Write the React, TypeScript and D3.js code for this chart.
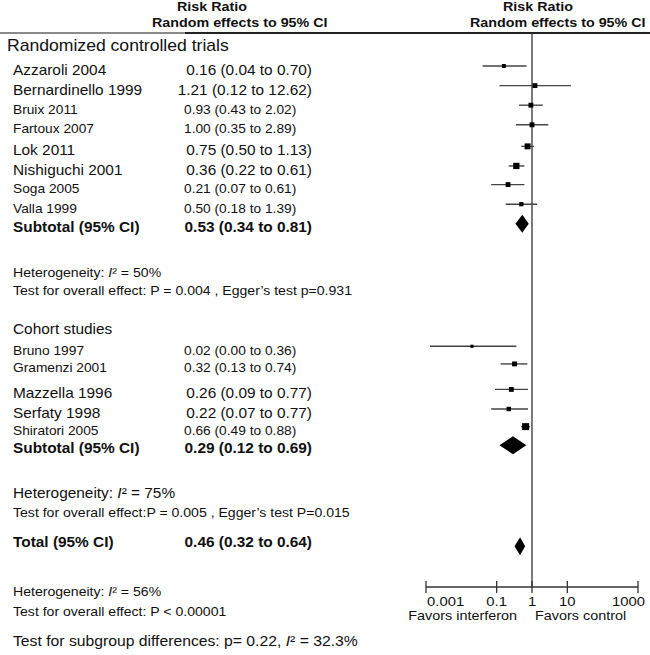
import React from "react";
import * as d3 from "d3";

// ---------- data ----------
const rctStudies = ["Azzaroli 2004", "Bernardinello 1999", "Bruix 2011", "Fartoux 2007", "Lok 2011", "Nishiguchi 2001", "Soga 2005", "Valla 1999"];
const rctRR = [0.16, 1.21, 0.93, 1.0, 0.75, 0.36, 0.21, 0.5];
const rctLo = [0.04, 0.12, 0.43, 0.35, 0.5, 0.22, 0.07, 0.18];
const rctHi = [0.7, 12.62, 2.02, 2.89, 1.13, 0.61, 0.61, 1.39];
const rctWeight = [8, 12, 12, 12, 18, 20, 12, 9];

const cohortStudies = ["Bruno 1997", "Gramenzi 2001", "Mazzella 1996", "Serfaty 1998", "Shiratori 2005"];
const cohortRR = [0.02, 0.32, 0.26, 0.22, 0.66];
const cohortLo = [0.0013, 0.13, 0.09, 0.07, 0.49];
const cohortHi = [0.36, 0.74, 0.77, 0.77, 0.88];
const cohortWeight = [5, 12, 12, 10, 25];

const subtotalRCT = [0.53, 0.34, 0.81];
const subtotalCohort = [0.29, 0.12, 0.69];
const totalAll = [0.46, 0.32, 0.64];

const axisTicks = [0.001, 0.1, 1, 10, 1000];
const axisTickLabels = ["0.001", "0.1", "1", "10", "1000"];

// ---------- layout / style ----------
const W = 650;
const H = 655;
const FONT = "'Liberation Sans', Arial, Helvetica, sans-serif";
const SX = 1.1;
const bigRows = new Set(["Azzaroli 2004", "Bernardinello 1999", "Lok 2011", "Nishiguchi 2001", "Mazzella 1996", "Serfaty 1998"]);

const x = d3.scaleLog().domain([0.001, 1000]).range([426, 638]);
const slotY = d3.scaleLinear().domain([0, 1]).range([70, 89.6]);
const size = d3.scaleSqrt().domain([0, 25]).range([0, 7]);
const fmt = d3.format(".2f");

const rctSlots = [0, 1, 2, 3, 4.1, 5.1, 6.05, 7.05];
const cohortSlots = [14.3, 15.2, 16.5, 17.5, 18.4];

const AXIS_Y = 587;
const HEADER_LINE_Y = 33;

type TProps = { x: number; y: number; size: number; weight?: string; anchor?: string; sx?: number; children?: React.ReactNode };
function T({ x, y, size, weight, anchor, sx, children }: TProps) {
  const base = y + 0.36 * size;
  return (
    <text
      transform={`translate(${x},${base}) scale(${sx || SX},1)`}
      fontSize={size}
      fontWeight={weight || "normal"}
      textAnchor={anchor || "start"}
      fill="#111"
      fontFamily={FONT}
    >
      {children}
    </text>
  );
}

const ciText = (rr: number, lo: number, hi: number) => `${fmt(rr)} (${fmt(lo)} to ${fmt(hi)})`;

function StudyRow({ name, rr, lo, hi, w, slot }: { name: string; rr: number; lo: number; hi: number; w: number; slot: number }) {
  const cy = slotY(slot);
  const big = bigRows.has(name);
  const fs = big ? 14 : 12.5;
  const my = cy - 4;
  const s = size(w);
  return (
    <g>
      <T x={13} y={cy} size={fs}>{name}</T>
      {big ? (
        <T x={312} y={cy} size={fs} anchor="end">{ciText(rr, lo, hi)}</T>
      ) : (
        <T x={184} y={cy} size={fs}>{ciText(rr, lo, hi)}</T>
      )}
      <line x1={x(lo)} x2={x(hi)} y1={my} y2={my} stroke="#444" strokeWidth={1.4} />
      <rect x={x(rr) - s / 2} y={my - s / 2} width={s} height={s} fill="#000" />
    </g>
  );
}

function Diamond({ vals, cy, h }: { vals: number[]; cy: number; h: number }) {
  const [rr, lo, hi] = vals;
  const p = `M${x(lo)},${cy} L${x(rr)},${cy - h} L${x(hi)},${cy} L${x(rr)},${cy + h} Z`;
  return <path d={p} fill="#000" />;
}

function Summary({ label, vals, slot, dy }: { label: string; vals: number[]; slot: number; dy: number }) {
  const cy = slotY(slot);
  return (
    <g>
      <T x={13} y={cy} size={14} weight="bold">{label}</T>
      <T x={312} y={cy} size={14} weight="bold" anchor="end">{ciText(vals[0], vals[1], vals[2])}</T>
      <Diamond vals={vals} cy={cy + dy} h={9} />
    </g>
  );
}

function Het({ slot, size: fs, value }: { slot: number; size: number; value: string }) {
  return (
    <T x={13} y={slotY(slot)} size={fs}>
      Heterogeneity: <tspan fontStyle="italic">I</tspan>² = {value}
    </T>
  );
}

export default function App() {
  const x1 = x(1);
  return (
    <svg width={W} height={H} style={{ position: "absolute", left: 0, top: 0, background: "#fff" }} fontFamily={FONT}>
      <rect x={0} y={0} width={W} height={H} fill="#fff" />
      {/* headers */}
      <T x={177} y={6} size={13} weight="bold">Risk Ratio</T>
      <T x={152} y={22} size={13} weight="bold">Random effects to 95% CI</T>
      <T x={503} y={6} size={13} weight="bold">Risk Ratio</T>
      <T x={470} y={22} size={13} weight="bold">Random effects to 95% CI</T>
      <line x1={0} x2={185} y1={HEADER_LINE_Y} y2={HEADER_LINE_Y} stroke="#8a8a8a" strokeWidth={2} />
      <line x1={185} x2={W} y1={HEADER_LINE_Y} y2={HEADER_LINE_Y} stroke="#222" strokeWidth={2} />

      {/* line of no effect */}
      <line x1={x1} x2={x1} y1={HEADER_LINE_Y} y2={AXIS_Y} stroke="#333" strokeWidth={1.3} />

      {/* RCT section */}
      <T x={7} y={slotY(-1.28)} size={16}>Randomized controlled trials</T>
      {rctStudies.map((n, i) => (
        <StudyRow key={n} name={n} rr={rctRR[i]} lo={rctLo[i]} hi={rctHi[i]} w={rctWeight[i]} slot={rctSlots[i]} />
      ))}
      <Summary label="Subtotal (95% CI)" vals={subtotalRCT} slot={8.0} dy={-3} />
      <Het slot={10.35} size={12.8} value="50%" />
      <T x={13} y={slotY(11.25)} size={12.8}>Test for overall effect: P = 0.004 , Egger’s test p=0.931</T>

      {/* Cohort section */}
      <T x={13} y={slotY(13.2)} size={14}>Cohort studies</T>
      {cohortStudies.map((n, i) => (
        <StudyRow key={n} name={n} rr={cohortRR[i]} lo={cohortLo[i]} hi={cohortHi[i]} w={cohortWeight[i]} slot={cohortSlots[i]} />
      ))}
      <Summary label="Subtotal (95% CI)" vals={subtotalCohort} slot={19.3} dy={-3} />
      <Het slot={21.6} size={14} value="75%" />
      <T x={13} y={slotY(22.55)} size={12.8}>Test for overall effect:P = 0.005 , Egger’s test P=0.015</T>

      {/* Total */}
      <Summary label="Total (95% CI)" vals={totalAll} slot={24.1} dy={4} />
      <Het slot={26.6} size={12.8} value="56%" />
      <T x={13} y={slotY(27.6)} size={12.8}>Test for overall effect: P &lt; 0.00001</T>
      <T x={13} y={slotY(29.1)} size={14.3}>
        Test for subgroup differences: p= 0.22, <tspan fontStyle="italic">I</tspan>² = 32.3%
      </T>

      {/* axis */}
      <line x1={x(axisTicks[0])} x2={x(axisTicks[axisTicks.length - 1])} y1={AXIS_Y} y2={AXIS_Y} stroke="#333" strokeWidth={1.3} />
      {axisTicks.map((t) => (
        <line key={t} x1={x(t)} x2={x(t)} y1={AXIS_Y - 6} y2={AXIS_Y + 6} stroke="#333" strokeWidth={1.3} />
      ))}
      {axisTicks.map((t, i) => {
        const last = i === axisTicks.length - 1;
        const first = i === 0;
        return (
          <T key={"l" + t} x={first ? x(t) + 1 : last ? x(t) + 7 : x(t)} y={601.5} size={13.5} anchor={first ? "start" : last ? "end" : "middle"}>
            {axisTickLabels[i]}
          </T>
        );
      })}
      <T x={x1 - 15} y={616} size={12} sx={1.2} anchor="end">Favors interferon</T>
      <T x={x1 + 3} y={616} size={12} sx={1.2}>Favors control</T>
    </svg>
  );
}
